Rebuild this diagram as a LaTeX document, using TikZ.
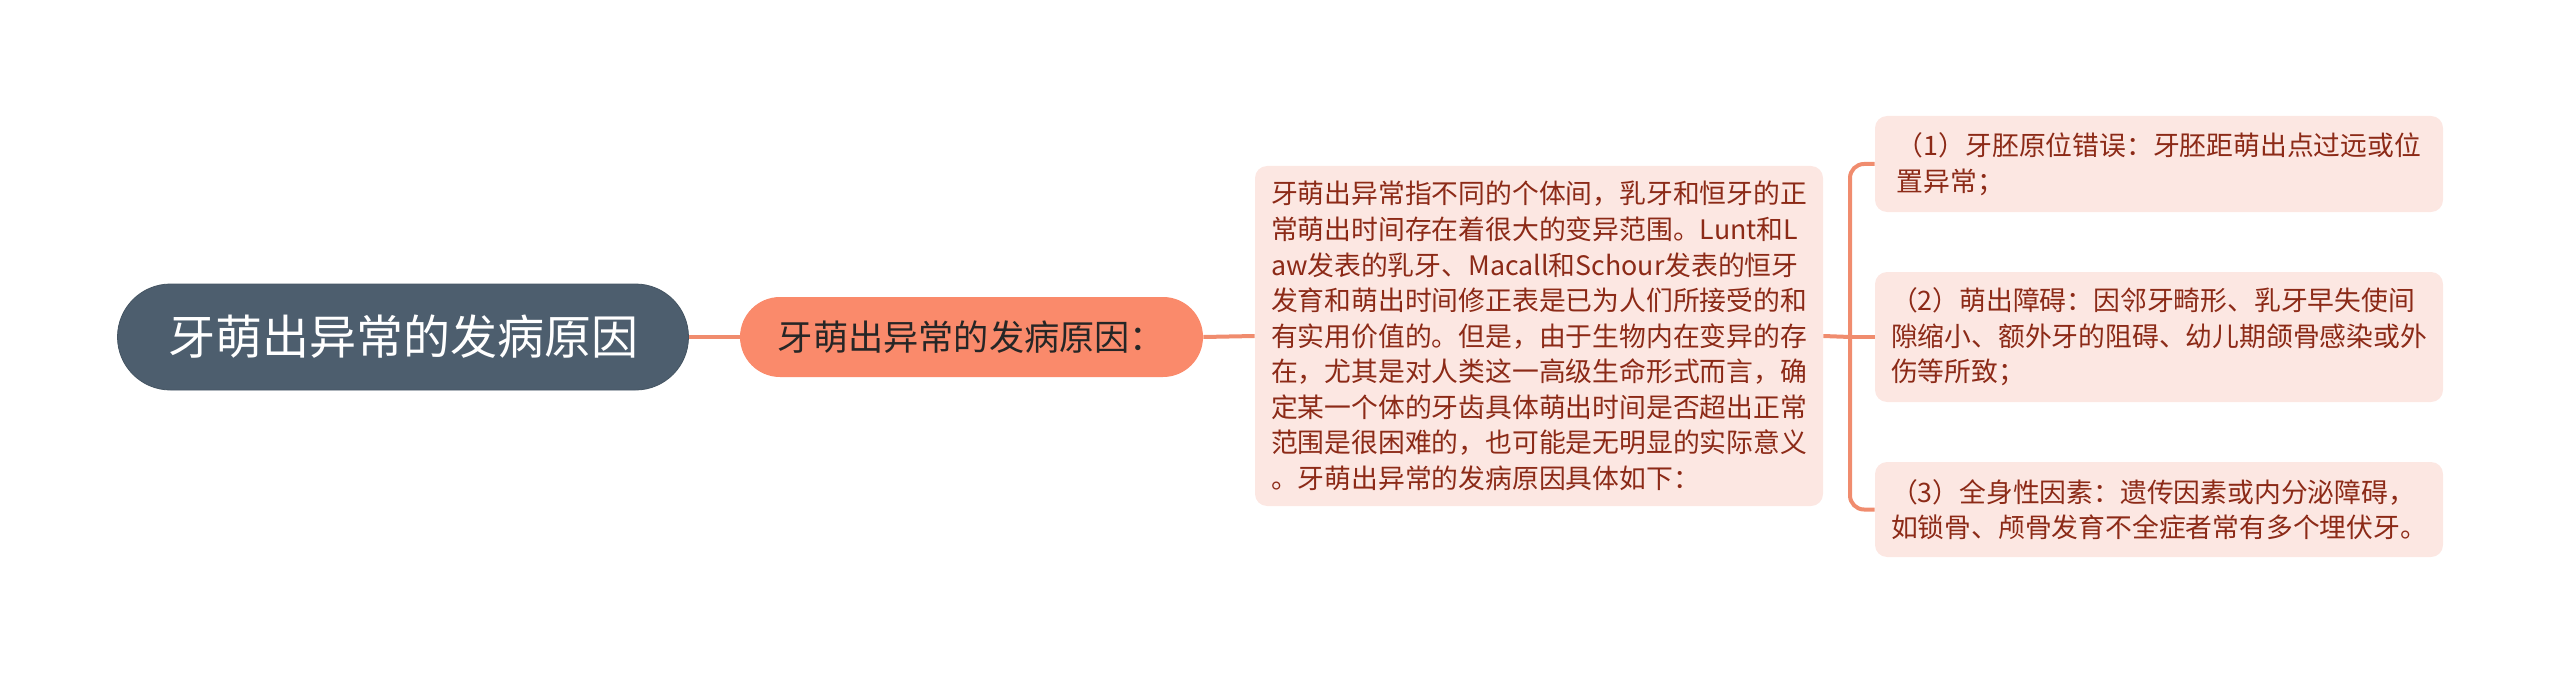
\documentclass[tikz,border=0pt]{standalone}
\usepackage{fontspec}
\setmainfont{Noto Sans CJK SC}
\usepackage{tikz}

\definecolor{slate}{HTML}{4D5E6E}
\definecolor{salmon}{HTML}{FA8A6B}
\definecolor{linkc}{HTML}{F08C6E}
\definecolor{paper}{HTML}{FCE7E2}
\definecolor{ink}{HTML}{8C2A17}

\begin{document}
\begin{tikzpicture}[
x=0.5pt, y=-0.5pt,
rootnode/.style={rectangle, draw=slate!90!black, fill=slate, text=white, rounded corners=26.5pt, minimum width=285.5pt, minimum height=53pt, inner sep=0pt, font={\fontsize{23.5}{28}\selectfont}},
branchnode/.style={rectangle, fill=salmon, text=black!85, rounded corners=20pt, minimum width=231.5pt, minimum height=40pt, inner sep=0pt, font={\fontsize{17.6}{21}\selectfont}},
descnode/.style={rectangle, fill=paper, text=ink, rounded corners=6pt, minimum width=284pt, align=left, inner sep=0pt, font={\fontsize{13.4}{17.8}\selectfont}},
link/.style={draw=linkc, line width=2pt}
]
\useasboundingbox (0,0) rectangle (2560,674);

%Nodes
\node[rootnode] at (403,337) (ROOT) {牙萌出异常的发病原因};
\node[branchnode] at (971.5,337) (CAUSE) {牙萌出异常的发病原因：};

\node[descnode, minimum height=170pt] at (1539,336) (DESC) {牙萌出异常指不同的个体间，乳牙和恒牙的正\\
常萌出时间存在着很大的变异范围。Lunt和L\\
aw发表的乳牙、Macall和Schour发表的恒牙\\
发育和萌出时间修正表是已为人们所接受的和\\
有实用价值的。但是，由于生物内在变异的存\\
在，尤其是对人类这一高级生命形式而言，确\\
定某一个体的牙齿具体萌出时间是否超出正常\\
范围是很困难的，也可能是无明显的实际意义\\
。牙萌出异常的发病原因具体如下：};

\node[descnode, minimum height=48pt] at (2159,164) (ITEM-1) {（1）牙胚原位错误：牙胚距萌出点过远或位\\
置异常；};
\node[descnode, minimum height=65pt] at (2159,337) (ITEM-2) {（2）萌出障碍：因邻牙畸形、乳牙早失使间\\
隙缩小、额外牙的阻碍、幼儿期颌骨感染或外\\
伤等所致；};
\node[descnode, minimum height=47.5pt] at (2159,509.5) (ITEM-3) {（3）全身性因素：遗传因素或内分泌障碍，\\
如锁骨、颅骨发育不全症者常有多个埋伏牙。};

\coordinate (FORK) at (1850,337);

%Lines
\draw[link] (ROOT.east) -- (CAUSE.west);
\draw[link] (CAUSE.east) -- (DESC.west);
\draw[link] (DESC.east) -- (FORK);

\draw[link, rounded corners=7pt] (FORK) |- (ITEM-1.west);
\draw[link] (FORK) -- (ITEM-2.west);
\draw[link, rounded corners=7pt] (FORK) |- (ITEM-3.west);
\end{tikzpicture}
\end{document}
